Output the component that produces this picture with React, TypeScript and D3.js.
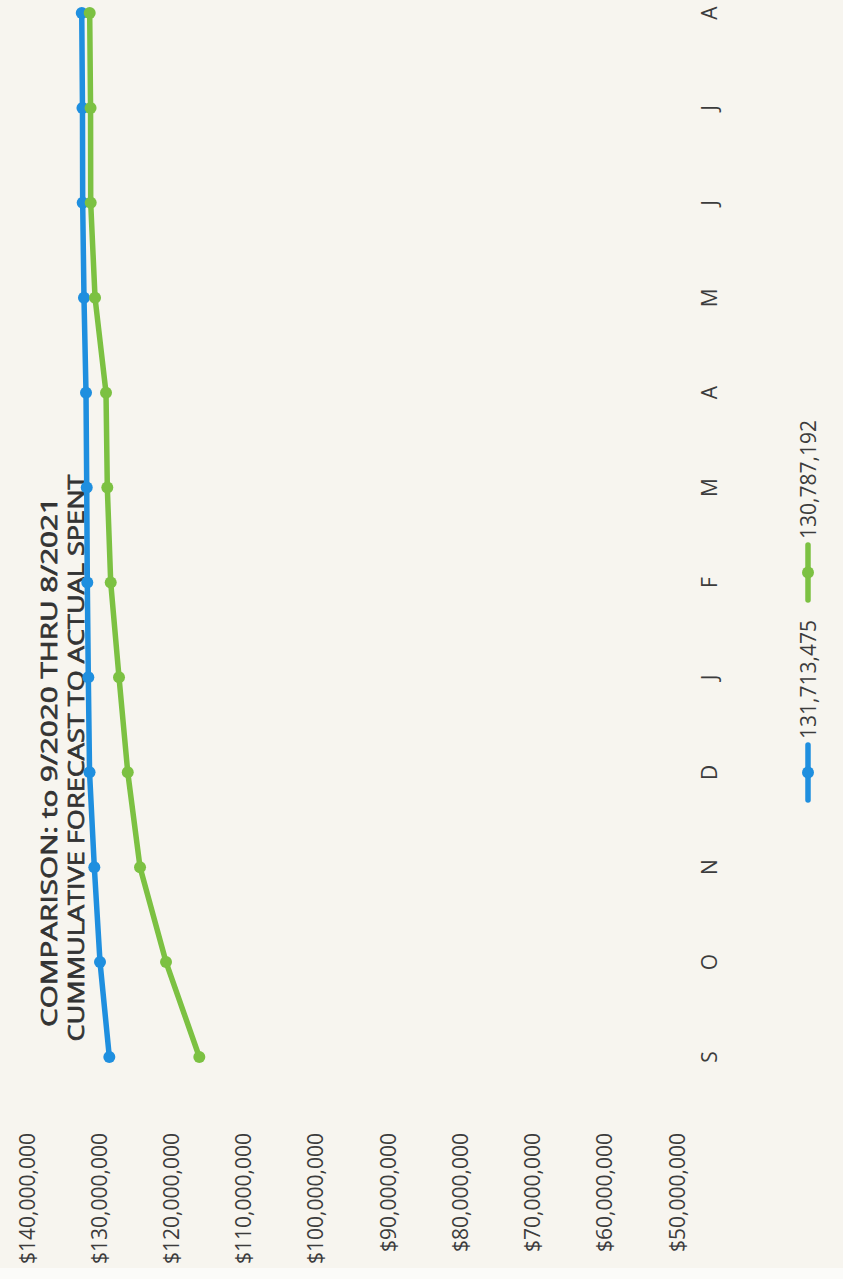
import React from "react";
import * as d3 from "d3";

// Month initials, Sep 2020 through Aug 2021
const months = ["S", "O", "N", "D", "J", "F", "M", "A", "M", "J", "J", "A"];

// Cumulative totals in dollars
const forecastSeries = [
  128600000, 129890000, 130680000, 131340000, 131510000, 131650000,
  131730000, 131830000, 132110000, 132290000, 132320000, 132420000,
];
const actualSeries = [
  116140000, 120750000, 124350000, 126050000, 127260000, 128410000,
  128880000, 129060000, 130580000, 131180000, 131200000, 131320000,
];

const seriesNames = ["131,713,475", "130,787,192"];
const yTicks = [140000000, 130000000, 120000000, 110000000, 100000000, 90000000, 80000000, 70000000, 60000000, 50000000];
const titleLines = ["COMPARISON: to 9/2020 THRU 8/2021", "CUMMULATIVE FORECAST TO ACTUAL SPENT"];

const PAGE_W = 843;
const PAGE_H = 1279;

const BLUE = "#1f8fdf";
const GREEN = "#7cc142";
const FONT = "'Open Sans', 'Liberation Sans', sans-serif";
const TEXT = "#3c3c3c";

export default function App() {
  // chart is laid out landscape and turned a quarter turn onto the page
  const x = d3
    .scalePoint<number>()
    .domain(months.map((_, i) => i))
    .range([222, 1266]);
  const y = d3.scaleLinear().domain([50000000, 140000000]).range([677, 27]);
  const fmt = d3.format(",");

  const line = d3
    .line<number>()
    .x((_, i) => x(i) as number)
    .y((d) => y(d));

  const series = [
    { name: seriesNames[0], values: forecastSeries, color: BLUE },
    { name: seriesNames[1], values: actualSeries, color: GREEN },
  ];

  const legendPos = [
    { lx0: 479, lx1: 534, tx: 540 },
    { lx0: 679, lx1: 734, tx: 740 },
  ];

  return (
    <div style={{ position: "absolute", left: 0, top: 0 }}>
      <svg width={PAGE_W} height={PAGE_H} style={{ display: "block" }}>
        <rect width={PAGE_W} height={PAGE_H} fill="#f7f5ef" />
        <rect x={0} y={PAGE_H - 11} width={PAGE_W} height={11} fill="#fbfbf9" />
        <g transform={`translate(0,${PAGE_H}) rotate(-90)`} fontFamily={FONT}>
          {/* title, slightly thickened with a stroke */}
          <text x={517} y={57} textAnchor="middle" fontSize={22} fill="#333" stroke="#333" strokeWidth={0.7} textLength={530} lengthAdjust="spacingAndGlyphs">
            {titleLines[0]}
          </text>
          <text x={521} y={84} textAnchor="middle" fontSize={22} fill="#333" stroke="#333" strokeWidth={0.7} textLength={567} lengthAdjust="spacingAndGlyphs">
            {titleLines[1]}
          </text>

          {/* value axis labels */}
          {yTicks.map((t) => (
            <text key={t} x={146} y={y(t)} dy="0.36em" textAnchor="end" fontSize={21} fill={TEXT}>
              {"$" + fmt(t)}
            </text>
          ))}

          {/* month labels */}
          {months.map((m, i) => (
            <text key={i} x={x(i) as number} y={709} dy="0.36em" textAnchor="middle" fontSize={21} fill={TEXT}>
              {m}
            </text>
          ))}

          {/* series lines and markers */}
          {series.map((s) => (
            <g key={s.name}>
              <path d={line(s.values) || ""} fill="none" stroke={s.color} strokeWidth={5.5} strokeLinejoin="round" strokeLinecap="round" />
              {s.values.map((v, i) => (
                <circle key={i} cx={x(i) as number} cy={y(v)} r={6} fill={s.color} />
              ))}
            </g>
          ))}

          {/* legend */}
          {series.map((s, k) => (
            <g key={"lg" + k}>
              <line x1={legendPos[k].lx0} x2={legendPos[k].lx1} y1={808} y2={808} stroke={s.color} strokeWidth={5.5} strokeLinecap="round" />
              <circle cx={(legendPos[k].lx0 + legendPos[k].lx1) / 2} cy={808} r={6} fill={s.color} />
              <text x={legendPos[k].tx} y={808} dy="0.36em" fontSize={21} fill={TEXT}>
                {s.name}
              </text>
            </g>
          ))}
        </g>
      </svg>
    </div>
  );
}
